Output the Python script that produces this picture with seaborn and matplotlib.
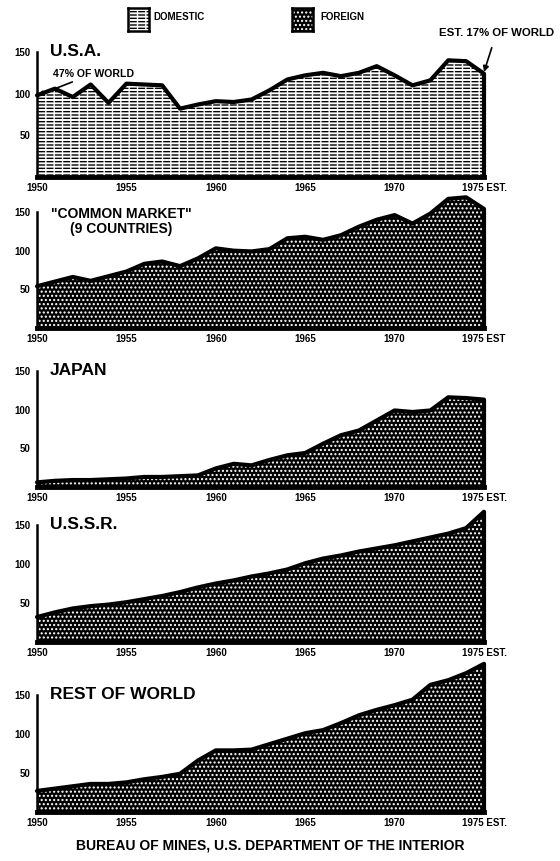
import numpy as np
import matplotlib
matplotlib.use("Agg")
import matplotlib.pyplot as plt
import seaborn as sns

# steel consumption index
years = list(range(1950, 1976))
usa = [98, 106, 96, 111, 89, 112, 111, 110, 82, 87, 91, 90, 93, 104, 117,
       122, 125, 121, 125, 133, 122, 110, 116, 140, 139, 124]
common_market = [54, 60, 66, 61, 67, 73, 83, 86, 80, 90, 103, 100, 99, 102, 116,
                 118, 114, 120, 131, 140, 146, 135, 148, 167, 169, 154]
japan = [6, 8, 9, 9, 10, 11, 13, 13, 14, 15, 24, 30, 28, 35, 41,
         44, 56, 67, 73, 86, 99, 97, 99, 116, 115, 113]
ussr = [32, 38, 43, 46, 48, 51, 55, 59, 64, 70, 75, 79, 84, 88, 93,
        101, 107, 111, 116, 120, 124, 129, 134, 139, 146, 167]
rest_of_world = [27, 30, 33, 36, 36, 38, 42, 45, 49, 66, 79, 79, 80, 87, 94,
                 101, 105, 114, 124, 131, 137, 144, 163, 169, 178, 190]

panels = [
    ("U.S.A.", usa, "domestic", "1975 EST."),
    ('"COMMON MARKET"\n(9 COUNTRIES)', common_market, "foreign", "1975 EST"),
    ("JAPAN", japan, "foreign", "1975 EST."),
    ("U.S.S.R.", ussr, "foreign", "1975 EST."),
    ("REST OF WORLD", rest_of_world, "foreign", "1975 EST."),
]

sns.set_style("white")
plt.rcParams["font.family"] = ["Liberation Sans", "DejaVu Sans"]
plt.rcParams["font.weight"] = "bold"
plt.rcParams["hatch.linewidth"] = 1.0
for key in ["text.color", "axes.labelcolor", "xtick.color", "ytick.color"]:
    plt.rcParams[key] = "black"

fig = plt.figure(figsize=(5.6, 8.61), dpi=100)
H = 861.0
# (baseline px, 150-line px) measured from the top of the reference
rows = [(177, 52), (328, 212), (487, 371), (642, 525), (812, 695)]
left, width = 37 / 560, 447 / 560


def fill_area(ax, x, y, kind, clip=False):
    if kind == "domestic":
        ax.fill_between(x, 0, y, facecolor="white", edgecolor="black",
                        hatch="-----", linewidth=0, clip_on=clip)
        ax.fill_between(x, 0, y, facecolor="none", edgecolor="white",
                        hatch="||", linewidth=0, clip_on=clip)
    else:
        ax.fill_between(x, 0, y, facecolor="black", edgecolor="white",
                        hatch="....", linewidth=0, clip_on=clip)


for (title, vals, kind, last_lab), (base, top) in zip(panels, rows):
    ax = fig.add_axes([left, (H - base) / H, width, (base - top) / H])
    fill_area(ax, years, vals, kind)
    sns.lineplot(x=years, y=vals, ax=ax, color="black", linewidth=3)
    for ln in ax.lines:
        ln.set_clip_on(False)
        ln.set_solid_joinstyle("round")
    ax.vlines(years[-1], 0, vals[-1], color="black", linewidth=3, clip_on=False)
    ax.set_xlim(1950, 1975)
    ax.set_ylim(0, 150)
    ax.set_yticks([50, 100, 150])
    ax.set_yticklabels(["50", "100", "150"], fontsize=7, fontweight="bold")
    ax.set_xticks([1950, 1955, 1960, 1965, 1970, 1975])
    ax.set_xticklabels(["1950", "1955", "1960", "1965", "1970", last_lab],
                       fontsize=7, fontweight="bold")
    ax.tick_params(axis="y", direction="inout", length=7, width=1.3, pad=1)
    ax.tick_params(axis="x", length=0, pad=4)
    ax.set_xlabel("")
    ax.set_ylabel("")
    sns.despine(ax=ax)
    ax.spines["left"].set_linewidth(1.8)
    ax.spines["bottom"].set_linewidth(3.5)
    ax.spines["left"].set_color("black")
    ax.spines["bottom"].set_color("black")
    ax.patch.set_alpha(0)
    if "\n" in title:
        ax.text(1954.7, 156, title, fontsize=10, fontweight="bold",
                ha="center", va="top", linespacing=1.1)
    else:
        ax.text(1950.7, 151, title, fontsize=12.5, fontweight="bold",
                ha="left", va="center")
    if title == "U.S.A.":
        ax.annotate("47% OF WORLD", xy=(1950.05, usa[0]), xytext=(1950.9, 124),
                    fontsize=7.6, fontweight="bold", ha="left", va="center",
                    arrowprops=dict(arrowstyle="-|>", color="black", lw=1.2,
                                    shrinkA=0, shrinkB=0),
                    annotation_clip=False)
        ax.annotate("EST. 17% OF WORLD", xy=(1975, usa[-1] + 2), xytext=(1975.7, 173),
                    fontsize=8.2, fontweight="bold", ha="center", va="center",
                    arrowprops=dict(arrowstyle="-|>", color="black", lw=1.2,
                                    shrinkA=5, shrinkB=0),
                    annotation_clip=False)

# legend boxes at the top
for kind, bx, tx, lab in [("domestic", 128, 153, "DOMESTIC"),
                          ("foreign", 292, 320, "FOREIGN")]:
    box = fig.add_axes([bx / 560, (H - 31) / H, 21 / 560, 23 / H])
    fill_area(box, [0, 1], [1, 1], kind, clip=True)
    box.set_xlim(0, 1)
    box.set_ylim(0, 1)
    box.set_xticks([])
    box.set_yticks([])
    for sp in box.spines.values():
        sp.set_visible(True)
        sp.set_linewidth(1.8)
        sp.set_color("black")
    fig.text(tx / 560, (H - 17) / H, lab, fontsize=7, fontweight="bold",
             ha="left", va="center")

fig.text(270 / 560, (H - 845) / H, "BUREAU OF MINES, U.S. DEPARTMENT OF THE INTERIOR",
         fontsize=10, fontweight="bold", ha="center", va="center")

fig.savefig("out.png", dpi=100, facecolor="white")
